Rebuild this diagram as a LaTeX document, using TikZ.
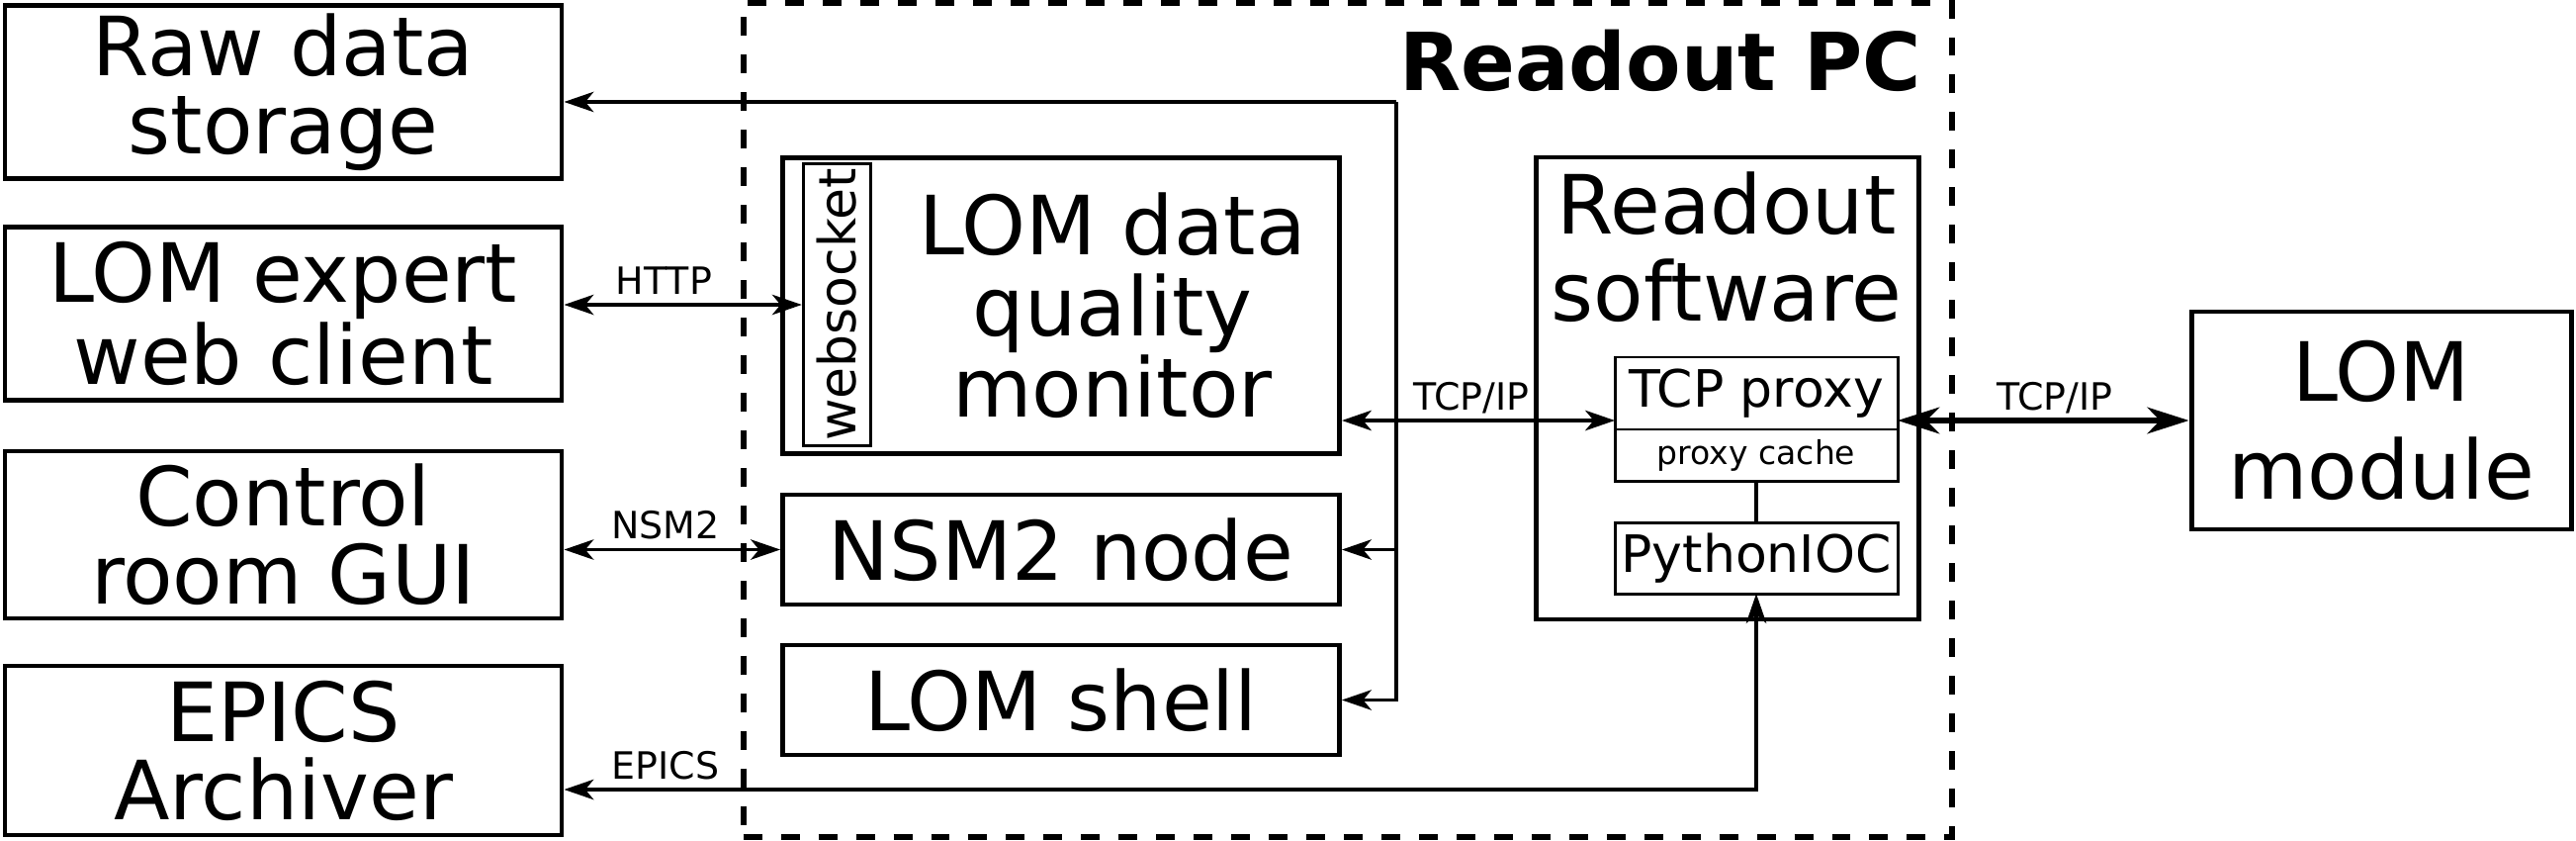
\documentclass[tikz,border=0pt]{standalone}
\usepackage{fontspec}
\setmainfont{DejaVu Sans}
\usepackage{graphicx}
\usepackage{tikz}
\usetikzlibrary{arrows.meta,positioning,shapes}

\begin{document}
\begin{tikzpicture}[<->,>={Stealth[length=8.5pt,width=5.8pt,inset=2.4pt]},line width=1pt]
\tikzstyle{block}=[draw,line width=1.4pt,text centered,align=center,inner sep=0pt,font=\fontsize{23.5}{22.5}\selectfont]
\tikzstyle{part}=[draw,line width=0.85pt,outer sep=0pt,inner sep=0pt,text centered,minimum width=2.86cm,font=\fontsize{14.8}{15}\selectfont]
\tikzstyle{pcframe}=[draw,line width=1.6pt,dash pattern=on 5.4pt off 5.4pt]
\tikzstyle{lbl}=[above,inner sep=3pt,outer sep=0pt,text depth=0pt,font=\fontsize{10.8}{12}\selectfont]
\tikzstyle{big arrow}=[line width=1.5pt,>={Stealth[length=12pt,width=7.6pt,inset=3.7pt]}]

\useasboundingbox (0,0) rectangle (26.05,-8.49);

% outside world
\node[block,minimum width=5.63cm,minimum height=1.755cm] (raw) at (2.865,-0.93) {Raw data\\storage};
\node[block,minimum width=5.63cm,minimum height=1.75cm] (expert) [below of=raw,node distance=2.24cm] {LOM expert\\web client};
\node[block,minimum width=5.63cm,minimum height=1.69cm] (gui) [below of=expert,node distance=2.235cm] {Control\\room GUI};
\node[block,minimum width=5.63cm,minimum height=1.71cm] (archiver) [below of=gui,node distance=2.18cm] {EPICS\\Archiver};

% readout PC
\node[pcframe,minimum width=12.223cm,minimum height=8.431cm] (pc) at (13.6285,-4.244) {};
\node[anchor=base east,inner sep=0pt,font=\fontsize{23}{23}\selectfont\bfseries] (pctitle) at (19.45,-0.92) {Readout PC};

\node[block,minimum width=5.63cm,minimum height=2.99cm] (dqm) at (10.73,-3.09) {};
\node[draw,line width=0.85pt,minimum width=0.685cm,minimum height=2.855cm,inner sep=0pt,font=\fontsize{14.8}{15}\selectfont] (ws) at (8.465,-3.08) {\rotatebox{90}{websocket}};
\node[inner sep=0pt,align=center,font=\fontsize{23.5}{23.3}\selectfont] (dqmtext) at (11.25,-3.09) {LOM data\\quality\\monitor};
\node[block,minimum width=5.63cm,minimum height=1.11cm] (nsm) [below of=dqm,node distance=2.465cm] {NSM2 node};
\node[block,minimum width=5.63cm,minimum height=1.11cm] (shell) [below of=nsm,node distance=1.52cm] {LOM shell};

\node[block,minimum width=3.87cm,minimum height=4.67cm] (rsw) at (17.47,-3.925) {};
\node[inner sep=0pt,align=center,font=\fontsize{23.5}{25}\selectfont] (rswtext) at (17.46,-2.495) {Readout\\software};
\node[part,minimum height=0.73cm] (tcp) at (17.76,-3.975) {TCP proxy};
\node[part,minimum height=0.52cm,font=\fontsize{9.4}{10}\selectfont] (cache) [below=0pt of tcp] {proxy cache};
\node[part,minimum height=0.72cm] (pyioc) [below=0.42cm of cache] {PythonIOC};

% detector side
\node[block,minimum width=3.84cm,minimum height=2.2cm,font=\fontsize{23.5}{28}\selectfont] (lom) at (24.08,-4.25) {LOM\\module};

% connections
\coordinate (bus) at (14.12,-1.03);
\coordinate (epicsbend) at (17.76,-7.98);

\draw[->] (bus) -- (bus -| raw.east);
\draw[->] (bus) |- (shell.east);
\draw[->] (bus |- nsm.east) -- (nsm.east);
\draw (ws.west -| expert.east) -- node[lbl,pos=0.42] {HTTP} (ws.west);
\draw (nsm.west -| gui.east) -- node[lbl,pos=0.468] {NSM2} (nsm.west);
\draw (lom.west -| dqm.east) -- node[lbl,pos=0.475] {TCP/IP} (lom.west -| tcp.west);
\draw[big arrow] (lom.west -| tcp.east) -- node[lbl,pos=0.54] {TCP/IP} (lom.west);
\draw[-] (cache.south) -- (pyioc.north);
\draw (epicsbend -| archiver.east) -- node[lbl,pos=0.085] {EPICS} (epicsbend) -- (pyioc.south);

\end{tikzpicture}
\end{document}
